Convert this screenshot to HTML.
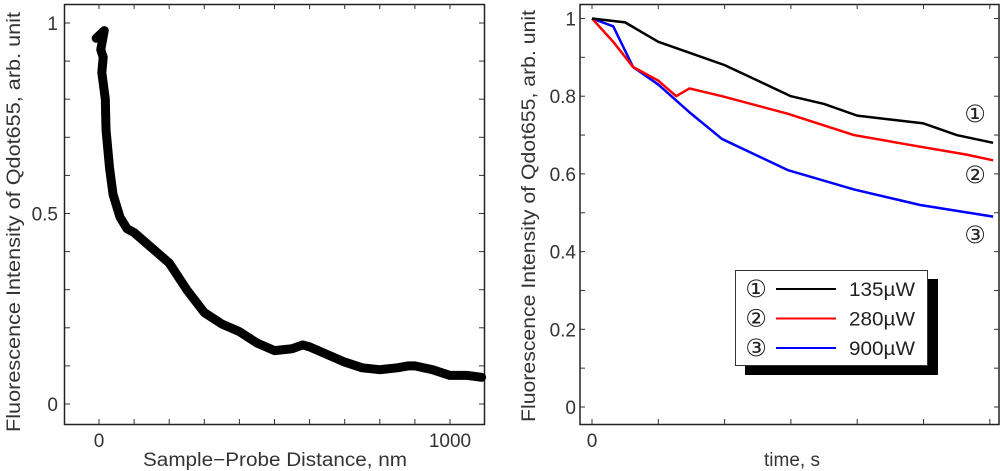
<!DOCTYPE html>
<html><head><meta charset="utf-8"><style>
body{margin:0;background:#fff;}
svg{display:block;font-family:"Liberation Sans","DejaVu Sans",sans-serif;}
</style></head><body>
<svg id="fig" width="1000" height="471" viewBox="0 0 1000 471">
<g id="left"></g>
<g id="right"></g>
</svg>
<script>
// Left chart data: distance (nm) vs intensity
const distNm = [-8,15,5,12,8,18,20,30,40,60,80,100,150,200,250,300,350,400,450,500,550,580,600,650,700,750,800,850,880,900,950,1000,1050,1090];
const intensityL = [0.96,0.98,0.93,0.91,0.87,0.80,0.72,0.62,0.55,0.49,0.46,0.45,0.41,0.37,0.30,0.24,0.21,0.19,0.16,0.14,0.145,0.155,0.15,0.13,0.11,0.095,0.09,0.095,0.10,0.10,0.09,0.075,0.075,0.07];
const leftXTicks = [0,1000];
const leftYTicks = [0,0.5,1];
// Right chart data: time (tick units) vs intensity
const timeT = [0,0.5,1,1.5,2,2.5,3,3.5,4,4.5,5,5.5,6.05];
const black135 = [1.0,0.99,0.94,0.91,0.88,0.84,0.80,0.78,0.75,0.74,0.73,0.70,0.68];
const timeRed = [0,0.32,0.62,1.0,1.27,1.47,1.96,2.95,3.95,4.95,5.64,6.05];
const red280 = [1.0,0.94,0.875,0.84,0.80,0.82,0.80,0.755,0.70,0.67,0.65,0.635];
const timeBlue = [0,0.32,0.62,1.0,1.46,1.96,2.95,3.95,4.95,6.05];
const blue900 = [1.0,0.98,0.875,0.83,0.76,0.69,0.61,0.56,0.52,0.49];
const rightYTicks = [0,0.2,0.4,0.6,0.8,1];
const legendLabels = ["135\u00b5W","280\u00b5W","900\u00b5W"];
const legendMarks = ["\u2460","\u2461","\u2462"];
const legendColors = ["#000","#f00","#00f"];

const NS="http://www.w3.org/2000/svg";
function mk(parent,tag,attrs,text){const e=document.createElementNS(NS,tag);for(const k in attrs)e.setAttribute(k,attrs[k]);if(text!==undefined)e.textContent=text;parent.appendChild(e);return e;}

// Left
const L=document.getElementById('left');
const lx=v=>99+(v/1000)*351, ly=v=>404-v*381;
let e=mk(L,'rect',{x:64.5,y:4.5,width:420,height:420,fill:'none',stroke:'#222','stroke-width':1.5});

for(let v=-100;v<=1100;v+=100){const x=lx(v);if(x<65||x>484)continue;mk(L,'line',{x1:x,y1:424,x2:x,y2:419,stroke:'#333'});mk(L,'line',{x1:x,y1:4,x2:x,y2:9,stroke:'#333'});}
for(let v=0;v<=1.05;v+=0.1){const y=ly(v);mk(L,'line',{x1:65,y1:y,x2:70,y2:y,stroke:'#333'});mk(L,'line',{x1:484,y1:y,x2:479,y2:y,stroke:'#333'});}
leftXTicks.forEach(v=>{e=mk(L,'text',{x:lx(v),y:447,'text-anchor':'middle','font-size':19,fill:'#333'},String(v));});
leftYTicks.forEach(v=>{e=mk(L,'text',{x:58,y:ly(v)+7,'text-anchor':'end','font-size':19,fill:'#333'},String(v));});
e=mk(L,'text',{x:275,y:466,'text-anchor':'middle','font-size':19,fill:'#333',textLength:264,lengthAdjust:'spacingAndGlyphs'},'Sample\u2212Probe Distance, nm');

e=mk(L,'text',{transform:'translate(20,222) rotate(-90)','text-anchor':'middle','font-size':19,fill:'#333',textLength:420,lengthAdjust:'spacingAndGlyphs'},'Fluorescence Intensity of Qdot655,  arb. unit');

const lpts=distNm.map((d,i)=>lx(d)+','+ly(intensityL[i])).join(' ');
e=mk(L,'polyline',{points:lpts,fill:'none',stroke:'#000','stroke-width':9,'stroke-linejoin':'round','stroke-linecap':'round'});


// Right
const R=document.getElementById('right');
const rx=v=>592+v*66.3, ry=v=>407-v*388.5;
e=mk(R,'rect',{x:580,y:4.5,width:419,height:420,fill:'none',stroke:'#222','stroke-width':1.5});

for(let t=0;t<=6;t++){const x=rx(t);mk(R,'line',{x1:x,y1:424,x2:x,y2:419,stroke:'#333'});mk(R,'line',{x1:x,y1:4,x2:x,y2:9,stroke:'#333'});}
for(let i=0;i<=10;i++){const y=ry(i*0.1);mk(R,'line',{x1:580,y1:y,x2:585,y2:y,stroke:'#333'});mk(R,'line',{x1:999,y1:y,x2:994,y2:y,stroke:'#333'});}
rightYTicks.forEach(v=>{e=mk(R,'text',{x:576,y:ry(v)+7,'text-anchor':'end','font-size':19,fill:'#333'},String(v));});
e=mk(R,'text',{x:592,y:447,'text-anchor':'middle','font-size':19,fill:'#333'},'0');

e=mk(R,'text',{x:792,y:466,'text-anchor':'middle','font-size':19,fill:'#333'},'time, s');

e=mk(R,'text',{transform:'translate(535,216) rotate(-90)','text-anchor':'middle','font-size':19,fill:'#333',textLength:412,lengthAdjust:'spacingAndGlyphs'},'Fluorescence Intensity of Qdot655,  arb. unit');

function line(ts,vs,col,name){const p=ts.map((t,i)=>rx(t)+','+ry(vs[i])).join(' ');const el=mk(R,'polyline',{points:p,fill:'none',stroke:col,'stroke-width':2.5,'stroke-linejoin':'round'});

}
line(timeBlue,blue900,'#00f','series-900uw');
line(timeRed,red280,'#f00','series-280uw');
line(timeT,black135,'#000','series-135uw');
[[114,0],[175,1],[235,2]].forEach(([y,i])=>{e=mk(R,'text',{x:975,y:y+8,'text-anchor':'middle','font-size':24,fill:'#222'},legendMarks[i]);});
// legend
e=mk(R,'rect',{x:745,y:279,width:193,height:96,fill:'#000'});

e=mk(R,'rect',{x:735.5,y:270.5,width:192,height:95,fill:'#fff',stroke:'#333','stroke-width':1});

legendLabels.forEach((lab,i)=>{const y=289+i*29.5;
e=mk(R,'text',{x:756,y:y+8,'text-anchor':'middle','font-size':24,fill:'#222'},legendMarks[i]);
e=mk(R,'line',{x1:776,y1:y,x2:836,y2:y,stroke:legendColors[i],'stroke-width':2});
e=mk(R,'text',{x:915,y:y+7,'text-anchor':'end','font-size':19,fill:'#222',textLength:66,lengthAdjust:'spacingAndGlyphs'},lab);});
</script>
</body></html>
